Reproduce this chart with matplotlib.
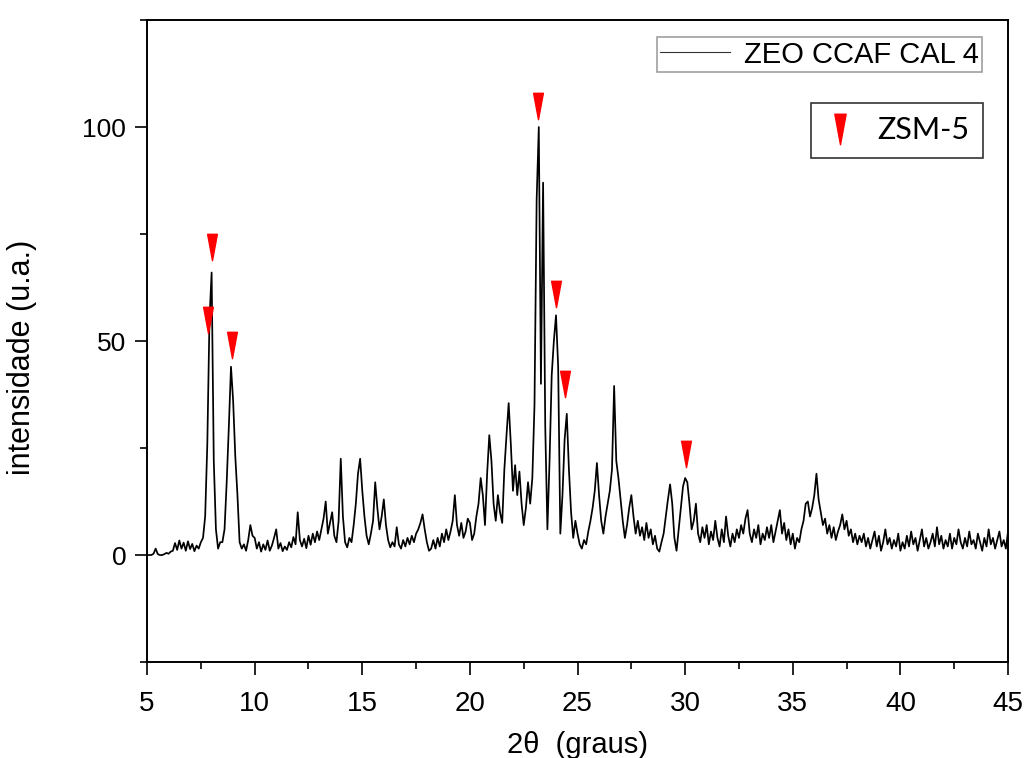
import numpy as np
import matplotlib
matplotlib.use("Agg")
import matplotlib.pyplot as plt
from matplotlib.path import Path

# 2theta scan: start angle and step (degrees)
inicio = 5.0
passo = 0.1

intensidade_linhas = [
    [0, 0, 0, 0.3, 1.5, 0.2, 0, 0, 0.2, 0.5],            # 5
    [0.3, 0.8, 1.0, 2.8, 1.2, 3.4, 1.5, 2.9, 1.0, 3.2],   # 6
    [1.4, 2.6, 0.9, 2.2, 1.5, 3.0, 4.0, 9, 26, 55],       # 7
    [66, 22, 6, 1.5, 3, 3, 6, 17, 30, 44],                # 8
    [36, 23, 14, 3, 1.5, 2.5, 1.0, 3.5, 7.0, 4.5],        # 9
    [4.0, 1.5, 3.0, 0.8, 2.5, 1.2, 3.4, 1.0, 2.2, 4.0],   # 10
    [6.0, 1.5, 2.8, 0.9, 2.0, 1.2, 3.0, 1.8, 4.2, 2.5],   # 11
    [10.0, 3.5, 2.0, 3.8, 1.6, 4.5, 2.4, 5.0, 3.0, 5.5],  # 12
    [3.5, 6.0, 8.5, 12.5, 5.0, 7.5, 10.0, 4.5, 3.0, 8.0], # 13
    [22.5, 9.0, 3.0, 1.8, 4.0, 3.0, 7.0, 12.0, 19.0, 22.5],  # 14
    [15.0, 9.0, 4.5, 2.5, 5.0, 8.0, 17.0, 11.0, 6.0, 9.0],   # 15
    [13.0, 7.0, 3.5, 1.8, 3.0, 2.0, 6.5, 2.5, 1.5, 3.5],     # 16
    [2.0, 4.0, 2.5, 4.5, 3.0, 5.0, 6.0, 7.5, 9.5, 6.0],      # 17
    [3.0, 1.0, 1.5, 3.5, 1.5, 4.0, 2.0, 5.0, 3.0, 6.0],      # 18
    [3.5, 5.5, 8.0, 14.0, 7.0, 4.5, 7.5, 4.0, 5.5, 8.5],     # 19
    [7.5, 3.5, 5.0, 9.0, 12.0, 18.0, 14.0, 7.0, 19.0, 28.0], # 20
    [22.0, 12.0, 8.0, 14.0, 10.0, 7.5, 20.0, 28.0, 35.5, 26.0],  # 21
    [15.0, 21.0, 14.0, 19.5, 12.0, 7.0, 11.0, 17.0, 12.0, 18.0], # 22
    [35.0, 83.0, 100.0, 40.0, 87.0, 30.0, 6.0, 22.0, 42.0, 50.0], # 23
    [56.0, 44.0, 5.0, 14.0, 27.0, 33.0, 20.0, 10.0, 4.0, 8.0],    # 24
    [5.0, 2.5, 1.5, 3.5, 2.5, 5.5, 8.0, 11.0, 15.0, 21.5],        # 25
    [14.0, 8.0, 5.0, 9.0, 12.0, 15.0, 20.0, 39.5, 22.0, 18.0],    # 26
    [13.0, 8.0, 4.0, 7.0, 11.0, 14.0, 9.0, 5.0, 8.0, 4.5],        # 27
    [6.5, 3.5, 7.5, 4.0, 6.0, 2.5, 4.5, 1.5, 0.8, 3.0],           # 28
    [5.0, 9.0, 13.0, 16.5, 12.0, 4.0, 1.0, 6.0, 11.0, 16.0],      # 29
    [18.0, 17.0, 12.0, 6.0, 8.0, 12.0, 5.0, 3.0, 6.5, 4.0],       # 30
    [7.0, 2.5, 5.5, 3.5, 8.0, 4.0, 2.0, 6.0, 3.0, 9.0],           # 31
    [4.5, 2.0, 5.0, 3.0, 6.0, 4.0, 7.0, 5.0, 8.5, 10.5],          # 32
    [5.0, 3.0, 6.0, 4.0, 7.0, 2.5, 5.0, 3.5, 6.5, 4.0],           # 33
    [7.0, 3.0, 5.5, 8.0, 10.5, 5.0, 7.5, 3.5, 6.0, 2.5],          # 34
    [5.0, 1.5, 4.0, 3.0, 6.0, 8.0, 12.0, 12.5, 9.0, 11.0],        # 35
    [14.0, 19.0, 13.0, 10.0, 7.0, 8.5, 5.0, 7.0, 4.0, 6.5],       # 36
    [3.5, 5.5, 7.0, 9.5, 6.0, 8.0, 4.5, 6.0, 3.0, 5.0],           # 37
    [2.5, 4.5, 3.0, 5.0, 2.0, 4.0, 1.5, 3.5, 5.5, 2.0],           # 38
    [4.5, 1.0, 3.0, 6.0, 2.5, 4.0, 1.5, 3.5, 2.0, 5.0],           # 39
    [1.0, 3.0, 1.5, 4.5, 2.0, 5.5, 2.5, 4.0, 1.0, 3.5],           # 40
    [6.0, 2.0, 4.0, 1.5, 3.0, 5.0, 2.0, 6.5, 2.5, 4.5],           # 41
    [1.5, 3.5, 2.0, 5.0, 1.5, 4.0, 2.5, 6.0, 3.0, 1.5],           # 42
    [4.0, 2.0, 5.5, 2.5, 3.5, 1.5, 5.0, 3.0, 1.0, 4.0],           # 43
    [2.0, 6.0, 2.5, 4.0, 1.5, 3.5, 5.5, 2.0, 3.5, 1.5],           # 44
    [5.5],                                                         # 45
]

# picos identificados como ZSM-5 (posicao do marcador)
zsm5_2theta = [8.0, 7.83, 8.95, 23.17, 24.0, 24.42, 30.04]
zsm5_altura = [72, 55, 49, 105, 61, 40, 23.6]

intensidade = np.array([v for linha in intensidade_linhas for v in linha])
dois_theta = inicio + passo * np.arange(len(intensidade))

# triangulo estreito apontando para baixo
tri = Path([(-0.37, 1), (0.37, 1), (0, -1), (-0.37, 1)],
           [Path.MOVETO, Path.LINETO, Path.LINETO, Path.CLOSEPOLY])

plt.rcParams["font.family"] = ["Liberation Sans", "DejaVu Sans"]

fig = plt.figure(figsize=(10.24, 7.58), dpi=100)
ax = fig.add_axes([0.1436, 0.1266, 0.8408, 0.847])

linha, = ax.plot(dois_theta, intensidade, color="black", lw=1.25)
ax.plot(zsm5_2theta, zsm5_altura, ls="none", marker=tri, ms=19,
        color="red", mec="red")

ax.set_xlim(5, 45)
ax.set_ylim(-25, 125)
ax.set_xticks(range(5, 46, 5))
ax.set_xticks(np.arange(7.5, 45, 5), minor=True)
ax.set_yticks([0, 50, 100])
ax.set_yticks([-25, 25, 75, 125], minor=True)
ax.tick_params(which="major", direction="out", length=9, width=1.2)
ax.tick_params(which="minor", direction="out", length=5, width=1.2)
ax.tick_params(axis="x", which="major", labelsize=20, pad=12)
ax.tick_params(axis="y", which="major", labelsize=19, pad=6)
for lb in ax.get_xticklabels():
    lb.set_family(["Liberation Sans Narrow", "Liberation Sans"])
for s in ax.spines.values():
    s.set_linewidth(1.4)

ax.set_xlabel("2θ  (graus)", fontsize=21)
ax.xaxis.set_label_coords(0.5, -0.108)
ax.set_ylabel("intensidade (u.a.)", fontsize=22)
ax.yaxis.set_label_coords(-0.128, 0.474)

leg1 = ax.legend([linha], ["ZEO CCAF CAL 4"], loc="center",
                 bbox_to_anchor=(0.781, 0.946), fontsize=21, frameon=True,
                 fancybox=False, handlelength=2.4, handletextpad=0.45,
                 borderpad=0.12)
leg1.get_frame().set_edgecolor("#888888")
leg1.get_frame().set_linewidth(1.2)
for l in leg1.get_lines():
    l.set_linewidth(0.8)
    l.set_color("#333333")
ax.add_artist(leg1)

marca = plt.Line2D([], [], ls="none", marker=tri, ms=22, color="red")
leg2 = ax.legend([marca], ["ZSM-5"], loc="center",
                 bbox_to_anchor=(0.871, 0.828), frameon=True, fancybox=False,
                 prop={"family": "Lato", "size": 22}, handlelength=1.0,
                 handletextpad=0.7, borderpad=0.45)
leg2.get_frame().set_edgecolor("black")
leg2.get_frame().set_linewidth(1.2)

fig.savefig("out.png", dpi=100)
